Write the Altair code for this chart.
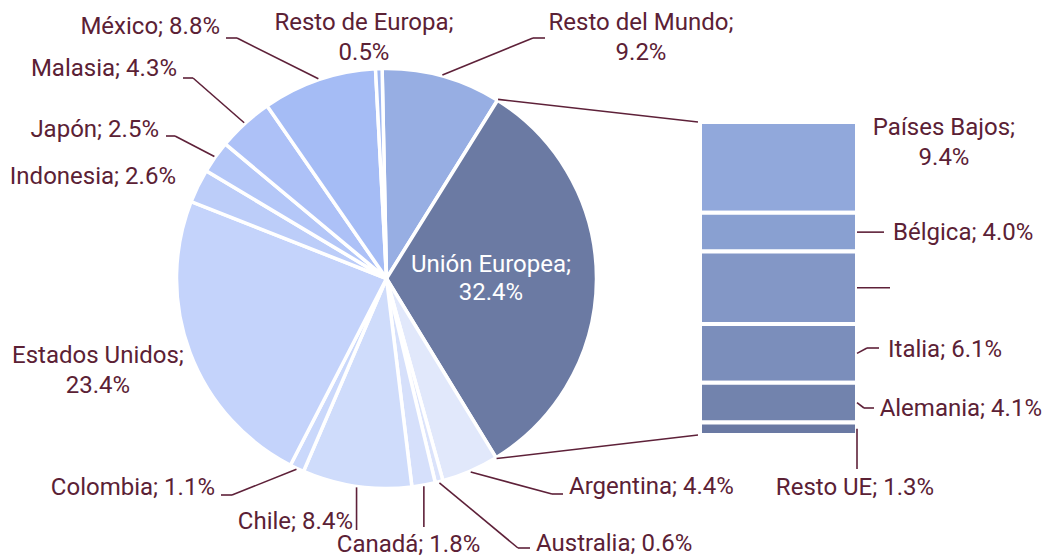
import math
import numpy as np
import pandas as pd
import altair as alt

# ---------------- data ----------------
names = ["Resto del Mundo", "Unión Europea", "Argentina", "Australia", "Canadá",
         "Chile", "Colombia", "Estados Unidos", "Indonesia", "Japón",
         "Malasia", "México", "Resto de Europa"]
values = [9.2, 32.4, 4.4, 0.6, 1.8, 8.4, 1.1, 23.4, 2.6, 2.5, 4.3, 8.8, 0.5]

eu_names = ["Países Bajos", "Bélgica", "(sin etiqueta)", "Italia", "Alemania", "Resto UE"]
eu_values = [9.4, 4.0, 7.5, 6.1, 4.1, 1.3]

# ---------------- styles ----------------
colors = ["#97aee3", "#6b7aa3", "#e1e8fb", "#dbe3fb", "#d6e0fb", "#cfdcfb", "#cad8fb",
          "#c4d3fb", "#bccdf9", "#b4c7f8", "#adc1f7", "#a5bcf5", "#a0b8f1"]
eu_colors = ["#91a8db", "#89a0d1", "#8397c6", "#7b8ebb", "#7283ad", "#6a79a3"]

TEXT = "#5b2135"
LINE = "#5e2139"
FONT = "Roboto"
FS = 24
LH = 30

W, H = 1035, 551
CX, CY, R = 386.5, 278.5, 210.0
START = -1.2  # degrees
BAR_X0, BAR_X1, BAR_Y0, BAR_Y1 = 700.0, 857.0, 122.0, 435.0

# label layout (page pixels): first-line anchor, alignment, leader path after the start point
pie_layout = {
    "Resto del Mundo": dict(wrap=True, x=641, y=23, align="center", pts=[(533, 38), (545, 38)]),
    "Argentina": dict(x=569, y=487, align="left", pts=[(552, 494), (563, 494)]),
    "Australia": dict(x=536, y=544, align="left", pts=[(518, 548), (530, 548)]),
    "Canadá": dict(x=408.5, y=545, align="center", pts=[(None, 527)]),
    "Chile": dict(x=353, y=522, align="right", pts=[(None, 530)]),
    "Colombia": dict(x=215, y=488, align="right", pts=[(232, 495), (221, 495)]),
    "Estados Unidos": dict(wrap=True, x=98, y=356, align="center", pts=None),
    "Indonesia": dict(x=176, y=177, align="right", pts=None),
    "Japón": dict(x=159, y=130, align="right", pts=[(175, 136), (166, 136)]),
    "Malasia": dict(x=177, y=69, align="right", pts=[(193, 78), (183, 78)]),
    "México": dict(x=220, y=27, align="right", pts=[(237, 38), (226, 38)]),
    "Resto de Europa": dict(wrap=True, x=364, y=23, align="center", pts=None),
}
eu_layout = {
    "Países Bajos": dict(wrap=True, x=944, y=128, align="center", pts=None),
    "Bélgica": dict(x=893, y=233, align="left", pts=[(884, None)]),
    "(sin etiqueta)": dict(hide=True, x=0, y=0, align="left", pts=[(890, None)]),
    "Italia": dict(x=888, y=350, align="left", pts=[(867, 348), (879, 348)]),
    "Alemania": dict(x=1042, y=409, align="right", pts=[(864, 408), (874, 408)]),
    "Resto UE": dict(x=855, y=488, align="center", pts=[(None, 469)]),
}


def fmt(name, v, wrap):
    sep = "\n" if wrap else " "
    return f"{name};{sep}{v:.1f}%"


def polar(pct, r):
    ang = math.radians(START + pct * 3.6)
    return CX + r * math.sin(ang), CY - r * math.cos(ang)


# ---------------- derived tables ----------------
pie_df = pd.DataFrame({"idx": range(len(names)), "name": names, "value": values})
pie_df["inner"] = [fmt(n, v, True) if n == "Unión Europea" else "" for n, v in zip(names, values)]

labels, segs = [], []
cum = np.cumsum(values)
for n, v, c in zip(names, values, cum):
    lay = pie_layout.get(n)
    if lay is None:
        continue
    labels.append(dict(x=lay["x"], y=lay["y"], text=fmt(n, v, lay.get("wrap", False)), align=lay["align"]))
    if lay["pts"]:
        p = polar(c - v / 2, R + 1)
        for q in lay["pts"]:
            q = (p[0] if q[0] is None else q[0], p[1] if q[1] is None else q[1])
            segs.append(dict(x=p[0], y=p[1], x2=q[0], y2=q[1]))
            p = q

# connectors from the EU slice to the bar
eu_start = cum[1] - values[1]
eu_end = cum[1]
p1 = polar(eu_start, R + 1)
p2 = polar(eu_end, R + 1)
segs.append(dict(x=p1[0], y=p1[1], x2=BAR_X0 - 2, y2=BAR_Y0))
segs.append(dict(x=p2[0], y=p2[1], x2=BAR_X0 - 2, y2=BAR_Y1))

scale = (BAR_Y1 - BAR_Y0) / sum(eu_values)
eu_cum = np.cumsum(eu_values)
bar_df = pd.DataFrame({
    "name": eu_names, "value": eu_values,
    "x": BAR_X0, "x2": BAR_X1,
    "y": BAR_Y0 + (eu_cum - np.array(eu_values)) * scale,
    "y2": BAR_Y0 + eu_cum * scale,
})
for n, v, c in zip(eu_names, eu_values, eu_cum):
    lay = eu_layout[n]
    if not lay.get("hide"):
        labels.append(dict(x=lay["x"], y=lay["y"], text=fmt(n, v, lay.get("wrap", False)), align=lay["align"]))
    if lay["pts"]:
        p = (BAR_X1, BAR_Y0 + (c - v / 2) * scale)
        for q in lay["pts"]:
            q = (p[0] if q[0] is None else q[0], p[1] if q[1] is None else q[1])
            segs.append(dict(x=p[0], y=p[1], x2=q[0], y2=q[1]))
            p = q

lab_df = pd.DataFrame(labels)
seg_df = pd.DataFrame(segs)

# ---------------- scales ----------------
xs = alt.Scale(domain=[8, 8 + W], range=[0, W], nice=False, zero=False)
ys = alt.Scale(domain=[8, 8 + H], range=[0, H], nice=False, zero=False)
ts = alt.Scale(domain=[0, 100], range=[math.radians(START), math.radians(START) + 2 * math.pi])

pie = alt.Chart(pie_df).mark_arc(outerRadius=R, stroke="white", strokeWidth=3.5).encode(
    theta=alt.Theta("value:Q", stack=True, scale=ts),
    color=alt.Color("name:N", scale=alt.Scale(domain=names, range=colors), legend=None),
    order=alt.Order("idx:Q"),
    x=alt.value(CX - 8), y=alt.value(CY - 8),
)

inner = alt.Chart(pie_df).mark_text(
    radius=104.5, font=FONT, fontSize=FS, color="white", lineBreak="\n",
    lineHeight=28, align="center", baseline="middle", dy=-14,
).encode(
    theta=alt.Theta("value:Q", stack=True, scale=ts),
    order=alt.Order("idx:Q"),
    text="inner:N",
    x=alt.value(CX - 8), y=alt.value(CY - 8),
)

bars = alt.Chart(bar_df).mark_rect(stroke="white", strokeWidth=4).encode(
    x=alt.X("x:Q", scale=xs, axis=None),
    x2="x2:Q",
    y=alt.Y("y:Q", scale=ys, axis=None),
    y2="y2:Q",
    color=alt.Color("name:N", scale=alt.Scale(domain=eu_names, range=eu_colors), legend=None),
)

rules = alt.Chart(seg_df).mark_rule(color=LINE, strokeWidth=1.6).encode(
    x=alt.X("x:Q", scale=xs, axis=None),
    y=alt.Y("y:Q", scale=ys, axis=None),
    x2="x2:Q", y2="y2:Q",
)


def text_layer(align):
    return alt.Chart(lab_df).transform_filter(alt.datum.align == align).mark_text(
        font=FONT, fontSize=FS, color=TEXT, align=align, baseline="middle",
        lineBreak="\n", lineHeight=LH,
    ).encode(
        x=alt.X("x:Q", scale=xs, axis=None),
        y=alt.Y("y:Q", scale=ys, axis=None),
        text="text:N",
    )


chart = alt.layer(
    pie, bars, rules, inner, text_layer("left"), text_layer("center"), text_layer("right")
).resolve_scale(color="independent").properties(
    width=W, height=H, padding=0,
    autosize=alt.AutoSizeParams(type="none"),
    background="white",
).configure_view(stroke=None)

chart.save("out.html", embed_options={"renderer": "svg", "actions": False})
